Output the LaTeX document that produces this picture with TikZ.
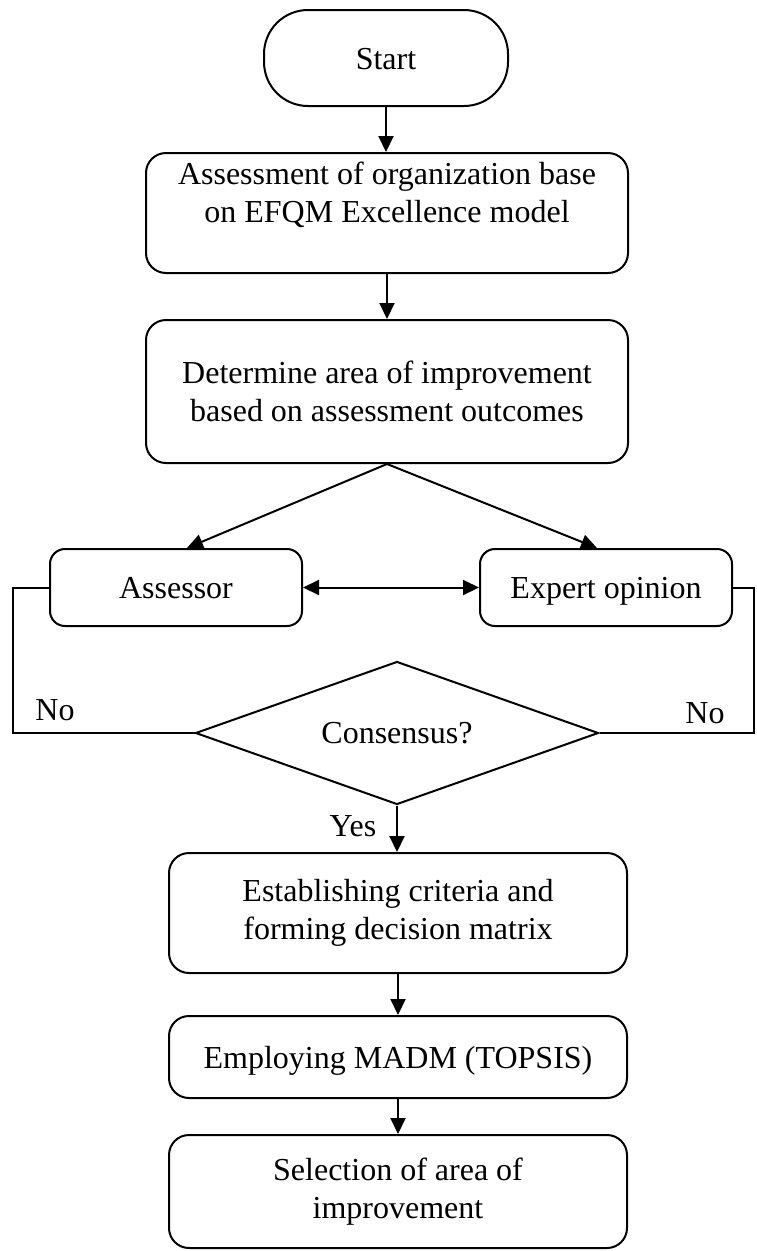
\documentclass[tikz,border=0pt]{standalone}
\usepackage{fontspec}
\setmainfont{Liberation Serif}
\usetikzlibrary{arrows.meta,shapes.geometric}
\begin{document}
\begin{tikzpicture}[x=1pt,y=-1pt,
  every node/.style={font=\fontsize{32}{38}\selectfont, inner sep=0pt},
  box/.style={draw, line width=2pt, rounded corners=20pt, align=center},
  oneline/.style={text height=22pt, text depth=-4pt},
  smallbox/.style={box, oneline, rounded corners=15pt, minimum width=252pt, minimum height=77pt},
  txt/.style={align=center},
  tip/.tip={Triangle[length=16pt,width=15pt]},
  flow/.style={line width=2pt, -tip},
  link/.style={line width=2pt},
]
\useasboundingbox (0,0) rectangle (756,1251);

% terminator and process boxes
\node[box, oneline, rounded corners=44pt, minimum width=244pt, minimum height=96pt] (start) at (386,58) {Start};
\node[box, minimum width=482pt, minimum height=120pt] (b1) at (387,213) {};
\node[txt] (t1) at (387,195) {Assessment of organization base\\on EFQM Excellence model};
\node[box, minimum width=482pt, minimum height=143pt] (b2) at (387,391.5)
  {Determine area of improvement\\based on assessment outcomes};
\node[smallbox] (ass) at (176,587.5) {Assessor};
\node[smallbox] (exp) at (606,587.5) {Expert opinion};
\node[draw, line width=2pt, diamond, aspect=2.8, minimum width=403pt, minimum height=143pt] (dia) at (397,733) {Consensus?};
\node[box, minimum width=458pt, minimum height=120pt] (b3) at (398,913)
  {Establishing criteria and\\forming decision matrix};
\node[box, oneline, minimum width=458pt, minimum height=82pt] (b4) at (398,1057) {Employing MADM (TOPSIS)};
\node[box, minimum width=458pt, minimum height=113pt] (b5) at (398,1191.5)
  {Selection of area of\\improvement};

% branch labels
\node[oneline] (nol) at (55,709) {No};
\node[oneline] (nor) at (705,712) {No};
\node[oneline] (yes) at (353,825) {Yes};

% connectors
\draw[flow] (start.south) -- (start.south |- b1.north);
\draw[flow] (b1.south) -- (b2.north);
\draw[flow] (b2.south) -- ([xshift=11pt]ass.north);
\draw[flow] (b2.south) -- ([xshift=-9pt]exp.north);
\draw[link, tip-tip] (ass.east) -- (exp.west);

\coordinate (lx) at (13,587.5);
\coordinate (rx) at (754,587.5);
\draw[link] (dia.west) -- (dia.west -| lx) |- (ass.west);
\draw[link] (dia.east) -- (dia.east -| rx) |- (exp.east);

\draw[flow] (dia.south) -- (dia.south |- b3.north);
\draw[flow] (b3.south) -- (b4.north);
\draw[flow] (b4.south) -- (b5.north);
\end{tikzpicture}
\end{document}
